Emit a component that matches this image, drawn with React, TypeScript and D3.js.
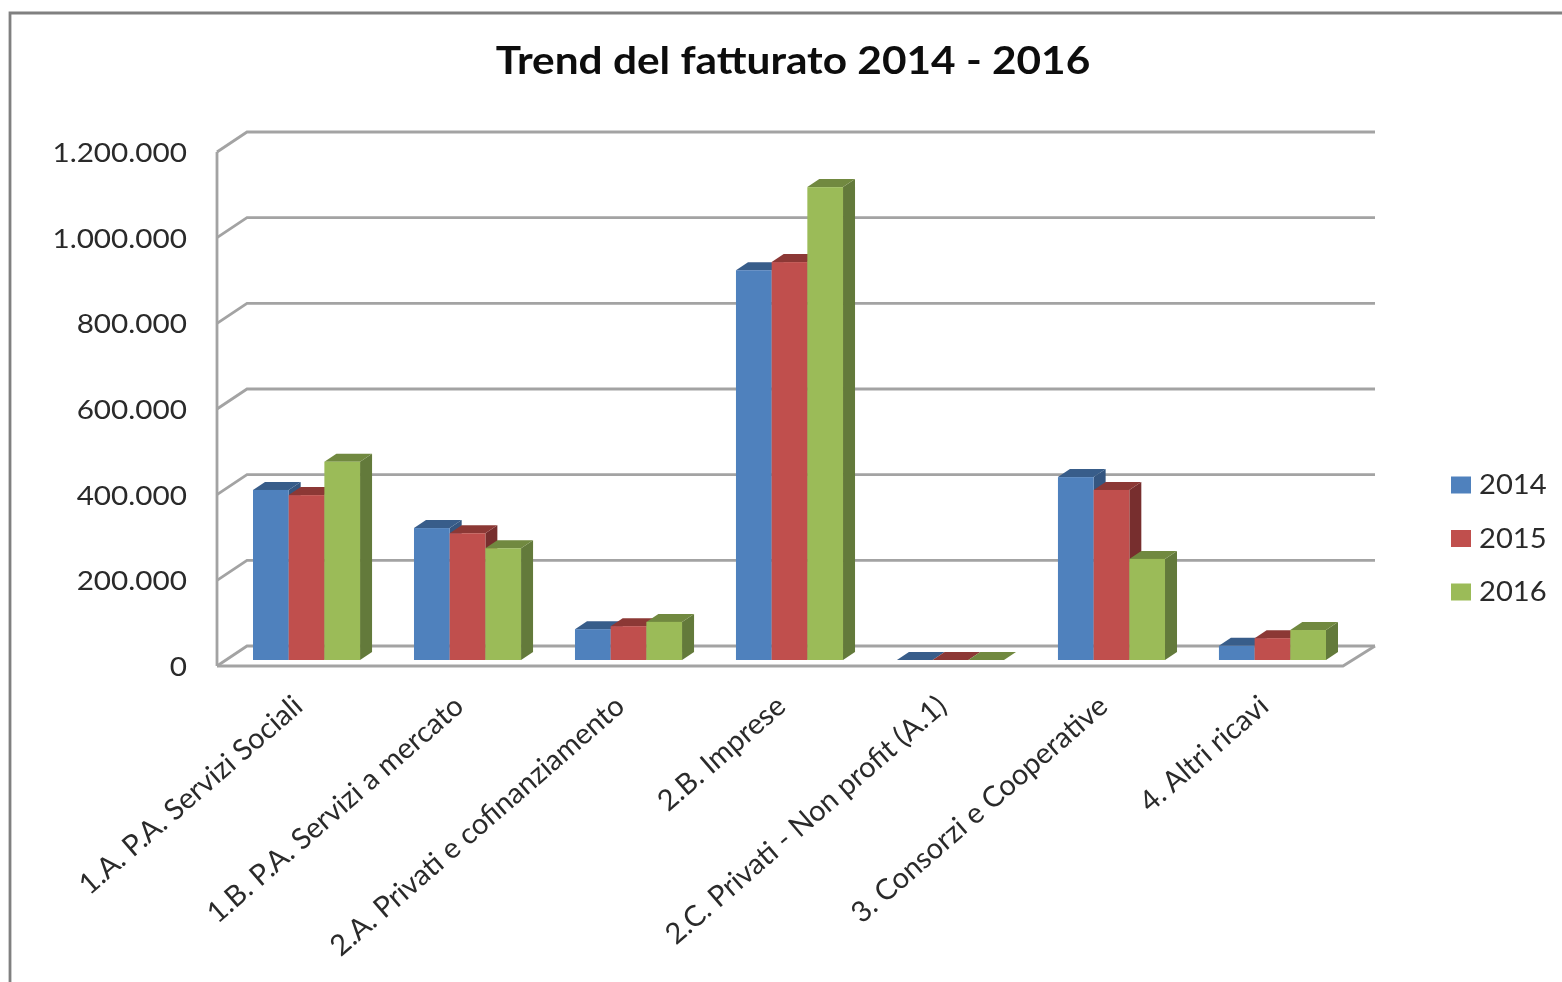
import React from "react";
import * as d3 from "d3";

const categories = [
  "1.A. P.A. Servizi Sociali",
  "1.B. P.A. Servizi a mercato",
  "2.A. Privati e cofinanziamento",
  "2.B. Imprese",
  "2.C. Privati - Non profit (A.1)",
  "3. Consorzi e Cooperative",
  "4. Altri ricavi",
];
const seriesNames = ["2014", "2015", "2016"];
const values2014 = [397000, 308000, 72000, 910000, 0, 427000, 33000];
const values2015 = [385000, 296000, 79000, 929000, 0, 397000, 51000];
const values2016 = [463000, 261000, 89000, 1104000, 0, 236000, 70000];
const yTicks = [0, 200000, 400000, 600000, 800000, 1000000, 1200000];
const frontColors = ["#4f81bd", "#c0504d", "#9bbb59"];
const topColors = ["#385d8a", "#8c3836", "#71893f"];
const sideColors = ["#345780", "#772f2d", "#647a3a"];

const FONT = "Lato, Carlito, sans-serif";
const allValues = [values2014, values2015, values2016];

const fmt = (v: number) => d3.format(",")(v).replace(/,/g, ".");

export default function App() {
  const frontX0 = 217, frontX1 = 1343, wallDx = 30, wallDy = -20;
  const axisY0 = 666, axisY1 = 152;
  const barBase = 660, barDx = 12, barDy = -8;

  const yAxis = d3.scaleLinear().domain([0, 1200000]).range([axisY0, axisY1]);
  const yBar = d3.scaleLinear().domain([0, 1200000]).range([barBase, barBase - (axisY0 - axisY1)]);
  const xCat = d3.scaleBand<string>().domain(categories).range([253, 1326]).paddingInner(0.335).paddingOuter(0);
  const xSer = d3.scaleBand<string>().domain(seriesNames).range([0, xCat.bandwidth()]);
  const grid = "#a3a3a3";
  const pts = (p: number[][]) => p.map((q) => q.join(",")).join(" ");

  return (
    <svg width={1562} height={982} style={{ position: "absolute", left: 0, top: 0, display: "block", background: "#fff" }}>
      <defs>
        <filter id="soft" x="0" y="0" width="1562" height="982" filterUnits="userSpaceOnUse">
          <feGaussianBlur stdDeviation="0.75" />
        </filter>
      </defs>
      <g filter="url(#soft)">
        <path d="M10,982 V13 H1562" fill="none" stroke="#808080" strokeWidth={2.8} />
        <text transform="translate(793,74) scale(1.115,1)" textAnchor="middle" fontFamily={FONT} fontWeight={700} fontSize={38} fill="#111">
          Trend del fatturato 2014 - 2016
        </text>

        {yTicks.map((t) => (
          <g key={t}>
            <polyline
              points={pts([[frontX0, yAxis(t)], [frontX0 + wallDx, yAxis(t) + wallDy], [frontX1 + wallDx + 2, yAxis(t) + wallDy]])}
              fill="none" stroke={grid} strokeWidth={2.8}
            />
            <text transform={`translate(187,${yAxis(t) + 0.5}) scale(1.1,1)`} dy="0.35em" textAnchor="end" fontFamily={FONT} fontSize={27} fill="#2b2b2b">
              {fmt(t)}
            </text>
          </g>
        ))}
        <line x1={frontX0} x2={frontX0} y1={axisY1} y2={axisY0} stroke={grid} strokeWidth={2.8} />
        <polyline
          points={pts([[frontX0, axisY0], [frontX1, axisY0], [frontX1 + wallDx + 2, axisY0 + wallDy]])}
          fill="none" stroke={grid} strokeWidth={2.8}
        />

        {categories.map((c, ci) => (
          <g key={c}>
            {seriesNames.map((s, si) => {
              const v = allValues[si][ci];
              const x0 = (xCat(c) as number) + (xSer(s) as number);
              const x1 = x0 + xSer.bandwidth();
              const yt = yBar(v);
              return (
                <g key={s}>
                  <polygon points={pts([[x1, barBase], [x1 + barDx, barBase + barDy], [x1 + barDx, yt + barDy], [x1, yt]])} fill={sideColors[si]} />
                  <polygon points={pts([[x0, yt], [x0 + barDx, yt + barDy], [x1 + barDx, yt + barDy], [x1, yt]])} fill={topColors[si]} />
                  <rect x={x0} y={yt} width={xSer.bandwidth()} height={barBase - yt} fill={frontColors[si]} />
                </g>
              );
            })}
          </g>
        ))}

        {categories.map((c) => (
          <text
            key={c}
            transform={`translate(${(xCat(c) as number) + xCat.bandwidth() / 2 - 2},${709}) rotate(-41)`}
            textAnchor="end" fontFamily={FONT} fontSize={29} fill="#2b2b2b"
          >
            {c}
          </text>
        ))}

        {seriesNames.map((s, i) => {
          const y = d3.scalePoint<string>().domain(seriesNames).range([485, 592])(s) as number;
          return (
            <g key={s}>
              <rect x={1451} y={y - 8.5} width={20} height={17} fill={frontColors[i]} />
              <text transform={`translate(1479,${y}) scale(1.08,1)`} dy="0.35em" fontFamily={FONT} fontSize={27} fill="#2b2b2b">{s}</text>
            </g>
          );
        })}
      </g>
    </svg>
  );
}
